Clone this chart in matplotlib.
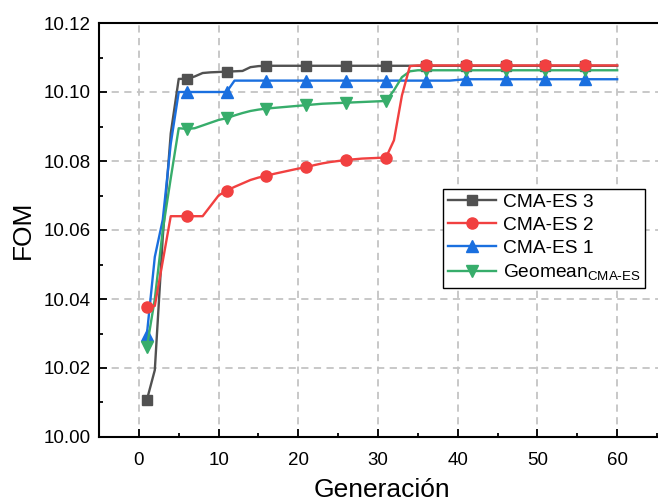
import numpy as np
import matplotlib.pyplot as plt

plt.rcParams['font.family'] = ['Liberation Sans', 'DejaVu Sans']

gen = np.arange(1, 61)

# CMA-ES 3
cma3 = [10.0107, 10.0194, 10.058, 10.088, 10.1038, 10.1038, 10.1045, 10.1055, 10.1057, 10.1058,
        10.1059, 10.1060, 10.1061, 10.1072, 10.1075] + [10.1076] * 45
# CMA-ES 2
cma2 = [10.0377, 10.0380, 10.051, 10.064, 10.064, 10.064, 10.064, 10.064, 10.067, 10.070,
        10.0714, 10.0725, 10.0735, 10.0745, 10.0752, 10.0757, 10.0763, 10.0768, 10.0773, 10.0778,
        10.0782, 10.0788, 10.0793, 10.0797, 10.0800, 10.0803, 10.0805, 10.0807, 10.0808, 10.0809,
        10.0810, 10.086, 10.099, 10.1075] + [10.1077] * 26
# CMA-ES 1
cma1 = [10.0296, 10.0522, 10.063, 10.085, 10.100, 10.100, 10.100, 10.100, 10.100, 10.100,
        10.100] + [10.1033] * 28 + [10.1035, 10.1037] + [10.1037] * 19
# Geomean
geo = [10.026, 10.040, 10.060, 10.075, 10.0895, 10.0893, 10.0895, 10.0903, 10.0911, 10.0919,
       10.0924, 10.0932, 10.0939, 10.0945, 10.0949, 10.0952, 10.0954, 10.0956, 10.0958, 10.0960,
       10.0962, 10.0964, 10.0966, 10.0967, 10.0968, 10.0969, 10.0970, 10.0971, 10.0972, 10.0973,
       10.0974, 10.1005, 10.1043, 10.1060] + [10.1063] * 26

fig = plt.figure(figsize=(6.58, 5.03), dpi=100)
ax = fig.add_axes([99 / 658, 66 / 503, 566 / 658, 414 / 503])

ax.plot(gen, cma3, '-s', color='#515151', lw=1.7, ms=7, markevery=5, label='CMA-ES 3')
ax.plot(gen, cma2, '-o', color='#F14040', lw=1.7, ms=8, markevery=5, label='CMA-ES 2', zorder=3.5)
ax.plot(gen, cma1, '-^', color='#1A6FDF', lw=1.7, ms=8, markevery=5, label='CMA-ES 1')
ax.plot(gen, geo, '-v', color='#37AD6B', lw=1.7, ms=8, markevery=5,
        label=r'Geomean$_{\mathregular{CMA\text{-}ES}}$')

ax.set_xlim(-5, 66)
ax.set_ylim(10.00, 10.12)
ax.set_xticks(np.arange(0, 61, 10))
ax.set_xticks(np.arange(-5, 66, 5), minor=True)
ax.set_yticks(np.arange(10.00, 10.121, 0.02))
ax.set_yticks(np.arange(10.01, 10.12, 0.02), minor=True)
ax.yaxis.set_major_formatter(plt.FormatStrFormatter('%.2f'))
ax.tick_params(which='both', direction='in', labelsize=13.5, width=1.3)
ax.tick_params(which='major', length=6)
ax.tick_params(which='minor', length=3)
ax.tick_params(axis='x', pad=11)
ax.tick_params(axis='y', pad=6)
for s in ax.spines.values():
    s.set_linewidth(1.5)
ax.spines['right'].set_visible(False)
ax.grid(True, which='major', ls=(0, (4, 3)), color='#c4c4c4', lw=1.3)
ax.set_axisbelow(True)

ax.set_xlabel('Generación', fontsize=19, labelpad=6)
ax.set_ylabel('FOM', fontsize=19, labelpad=6)

leg = ax.legend(loc='upper left', bbox_to_anchor=(0.608, 0.6), fontsize=13.8, frameon=True,
                fancybox=False, edgecolor='black', framealpha=1, borderpad=0.25,
                handlelength=2.5, labelspacing=0.3, handletextpad=0.35, borderaxespad=0)
leg.get_frame().set_linewidth(1.0)

fig.savefig('out.png', dpi=100)
